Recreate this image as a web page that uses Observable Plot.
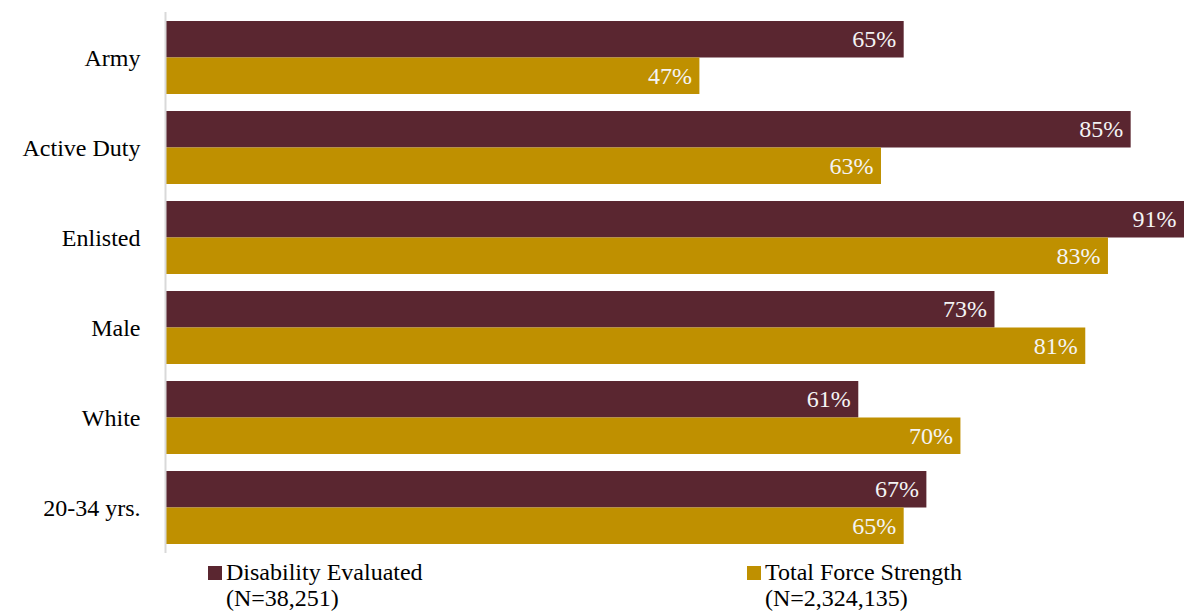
<!DOCTYPE html>
<html><head><meta charset="utf-8">
<script src="https://cdn.jsdelivr.net/npm/d3@7"></script>
<script src="https://cdn.jsdelivr.net/npm/@observablehq/plot@0.6"></script>
<style>
body{margin:0;background:#fff;font-family:"DejaVu Serif",serif;}
#legend{position:relative;width:1184px;height:60px;font-size:24px;line-height:26px;color:#000;}
.item{position:absolute;top:4px;}
.sw{position:absolute;top:7px;left:0;width:14px;height:14px;}
.txt{position:absolute;left:18px;white-space:nowrap;font-family:"Liberation Serif";}
</style></head><body>
<div id="chart"></div>
<div id="legend"></div>
<script>
const categories = ["Army","Active Duty","Enlisted","Male","White","20-34 yrs."];
const disabilityEvaluated = [0.65,0.85,0.91,0.73,0.61,0.67];
const totalForceStrength = [0.47,0.63,0.83,0.81,0.70,0.65];
const seriesNames = ["Disability Evaluated","Total Force Strength"];
const seriesN = ["(N=38,251)","(N=2,324,135)"];
const colors = ["#5A2630","#BF9000"];

const dis = categories.map((c,i)=>({cat:c, v:disabilityEvaluated[i]}));
const tot = categories.map((c,i)=>({cat:c, v:totalForceStrength[i]}));
const fmt = d3.format(".0%");
const half = 36.5;

const chart = Plot.plot({
  width:1184, height:555,
  marginLeft:166, marginRight:0, marginTop:12, marginBottom:2,
  style:{fontSize:"24px", fontFamily:"Liberation Serif", background:"#fff", color:"#000"},
  x:{domain:[0,0.897], clamp:true, axis:null},
  y:{domain:categories, paddingInner:0.19, paddingOuter:0.1, tickSize:0, tickPadding:26, label:null},
  marks:[
    Plot.barX(dis,{x:"v", y:"cat", fill:colors[0], insetBottom:half}),
    Plot.barX(tot,{x:"v", y:"cat", fill:colors[1], insetTop:half}),
    Plot.text(dis,{x:"v", y:"cat", text:d=>fmt(d.v), dy:-half/2, dx:-8, textAnchor:"end", fill:"#f4f4f4", fontFamily:"Liberation Serif"}),
    Plot.text(tot,{x:"v", y:"cat", text:d=>fmt(d.v), dy:half/2, dx:-8, textAnchor:"end", fill:"#f4f4f4", fontFamily:"Liberation Serif"}),
    Plot.ruleX([0],{stroke:"#d9d9d9", strokeWidth:2, dx:-1})
  ]
});
document.getElementById("chart").appendChild(chart);

const lg = document.getElementById("legend");
const lefts = [208, 747];
seriesNames.forEach((n,i)=>{
  const it = document.createElement("div");
  it.className="item"; it.style.left = lefts[i]+"px";
  it.innerHTML = `<div class="sw" style="background:${colors[i]}"></div><div class="txt">${n}<br>${seriesN[i]}</div>`;
  lg.appendChild(it);
});
</script>
</body></html>
